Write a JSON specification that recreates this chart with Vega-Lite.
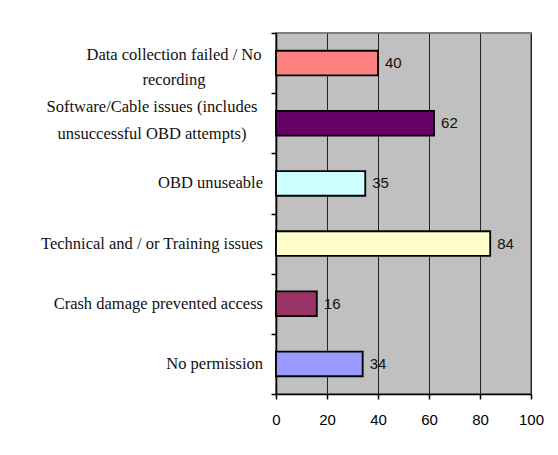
{
  "$schema": "https://vega.github.io/schema/vega-lite/v6.json",
  "width": 255,
  "height": 361,
  "autosize": {"type": "none"},
  "padding": {"left": 276, "top": 33, "right": 27, "bottom": 61},
  "background": "white",
  "config": {
    "view": {"fill": "#C0C0C0", "stroke": "#808080", "strokeWidth": 2}
  },
  "data": {
    "values": [
      {"cause": "Data collection failed / No\nrecording", "count": 40},
      {"cause": "Software/Cable issues (includes\nunsuccessful OBD attempts)", "count": 62},
      {"cause": "OBD unuseable", "count": 35},
      {"cause": "Technical and / or Training issues", "count": 84},
      {"cause": "Crash damage prevented access", "count": 16},
      {"cause": "No permission", "count": 34}
    ]
  },
  "encoding": {
    "y": {
      "field": "cause",
      "type": "nominal",
      "sort": null,
      "scale": {"paddingInner": 0, "paddingOuter": 0},
      "axis": {
        "title": null,
        "grid": false,
        "labels": false,
        "tickBand": "extent",
        "tickSize": 5,
        "tickColor": "black",
        "tickWidth": 1.5,
        "domainColor": "black",
        "domainWidth": 1.5
      }
    },
    "x": {
      "field": "count",
      "type": "quantitative",
      "scale": {"domain": [0, 100], "nice": false},
      "axis": {
        "title": null,
        "values": [0, 20, 40, 60, 80, 100],
        "grid": true,
        "gridColor": "#222222",
        "gridWidth": 1,
        "tickSize": 5,
        "tickColor": "black",
        "tickWidth": 1.5,
        "domainColor": "black",
        "domainWidth": 1.5,
        "labelFont": "Liberation Sans",
        "labelFontSize": 15,
        "labelColor": "black",
        "labelPadding": 13.5,
        "labelFlush": false
      }
    }
  },
  "layer": [
    {
      "mark": {"type": "bar", "height": {"band": 0.41}, "stroke": "black", "strokeWidth": 1.8},
      "encoding": {
        "color": {
          "field": "cause",
          "type": "nominal",
          "legend": null,
          "scale": {
            "domain": [
              "Data collection failed / No\nrecording",
              "Software/Cable issues (includes\nunsuccessful OBD attempts)",
              "OBD unuseable",
              "Technical and / or Training issues",
              "Crash damage prevented access",
              "No permission"
            ],
            "range": ["#FF8080", "#660066", "#CCFFFF", "#FFFFCC", "#993366", "#9999FF"]
          }
        }
      }
    },
    {
      "mark": {"type": "text", "align": "left", "baseline": "middle", "dx": 7, "font": "Liberation Sans", "fontSize": 15, "color": "#111111"},
      "encoding": {
        "text": {"field": "count", "type": "quantitative"}
      }
    },
    {
      "transform": [{"filter": "indexof(datum.cause, '\\n') < 0"}],
      "mark": {"type": "text", "align": "right", "baseline": "middle", "dx": -13, "font": "Liberation Serif", "fontSize": 16.5, "color": "#111111"},
      "encoding": {
        "x": {"datum": 0},
        "text": {"field": "cause", "type": "nominal"}
      }
    },
    {
      "transform": [{"filter": "indexof(datum.cause, 'Data') == 0"}],
      "mark": {"type": "text", "align": "center", "baseline": "middle", "dx": -102, "dy": -8, "lineBreak": "\n", "lineHeight": 25, "font": "Liberation Serif", "fontSize": 16.5, "color": "#111111"},
      "encoding": {
        "x": {"datum": 0},
        "text": {"field": "cause", "type": "nominal"}
      }
    },
    {
      "transform": [{"filter": "indexof(datum.cause, 'Software') == 0"}],
      "mark": {"type": "text", "align": "center", "baseline": "middle", "dx": -124, "dy": -16, "lineBreak": "\n", "lineHeight": 27, "font": "Liberation Serif", "fontSize": 16.5, "color": "#111111"},
      "encoding": {
        "x": {"datum": 0},
        "text": {"field": "cause", "type": "nominal"}
      }
    }
  ]
}
